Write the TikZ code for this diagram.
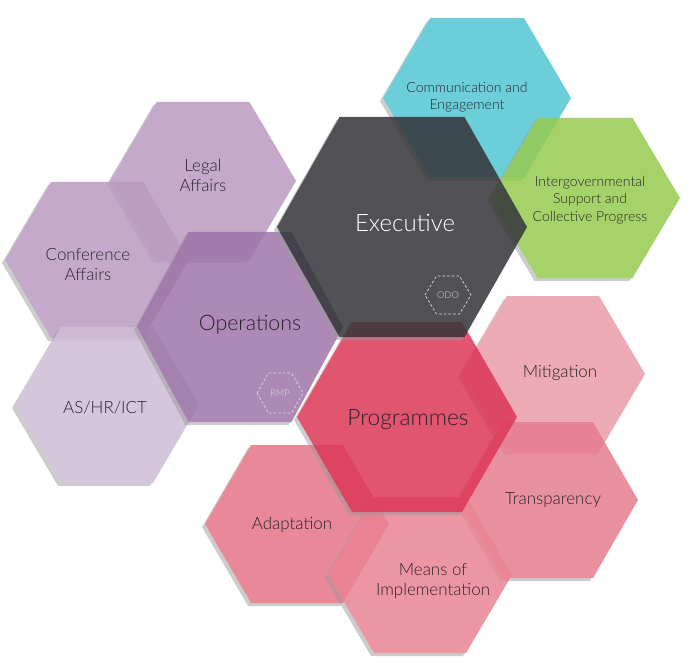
\documentclass[tikz,border=0pt]{standalone}
\usepackage{fontspec}
\IfFontExistsTF{Lato Light}{\setmainfont{Lato Light}}{\setmainfont{Lato}}
\definecolor{execc}{RGB}{52,52,56}
\definecolor{cyanc}{RGB}{82,197,209}
\definecolor{greenc}{RGB}{150,202,80}
\definecolor{purpleop}{RGB}{157,117,168}
\definecolor{purplemid}{RGB}{186,154,193}
\definecolor{purplelt}{RGB}{207,188,214}
\definecolor{progc}{RGB}{220,55,86}
\definecolor{mitc}{RGB}{233,155,167}
\definecolor{transc}{RGB}{229,124,141}
\definecolor{adapc}{RGB}{229,115,134}
\definecolor{meansc}{RGB}{233,131,147}
\definecolor{labeltext}{RGB}{40,36,44}
\definecolor{tagc}{RGB}{225,222,228}
\newcommand{\hexdraw}[5]{%
  \begin{scope}[even odd rule]
    \clip (#2-#4,#3) -- (#2-#4/2,#3-#5) -- (#2+#4/2,#3-#5) -- (#2+#4,#3) -- (#2+#4/2,#3+#5) -- (#2-#4/2,#3+#5) -- cycle (-10,-10) rectangle (701,676);
    \fill[shadowfill, hexp={#2}{#3}{#4}{#5}];
  \end{scope}
  \fill[#1, hexfill, hexp={#2}{#3}{#4}{#5}];
}
\begin{document}
\begin{tikzpicture}[x=0.75pt,y=-0.75pt,
  hexp/.style n args={4}{insert path={(#1-#3,#2) -- (#1-#3/2,#2-#4) -- (#1+#3/2,#2-#4) -- (#1+#3,#2) -- (#1+#3/2,#2+#4) -- (#1-#3/2,#2+#4) -- cycle}},
  shadowfill/.style={fill=black!40, fill opacity=0.5, shift={(-3,3)}},
  hexfill/.style={fill opacity=0.85},
  lbl/.style={text=labeltext, align=center, font=\fontsize{12.7}{15}\selectfont},
  lblsmall/.style={text=labeltext, align=center, font=\fontsize{10.5}{13}\selectfont},
  lblbig/.style={align=center, font=\fontsize{16}{19}\selectfont},
  tagline/.style={draw=tagc, dash pattern=on 2pt off 1.5pt, line width=0.5pt},
  taglbl/.style={text=tagc, font=\fontsize{7}{8}\selectfont}
]
\useasboundingbox (0,0) rectangle (691,666);

% Operations cluster
\hexdraw{purplemid}{203}{181}{93}{79}
\hexdraw{purplemid}{97}{260}{92}{78}
\hexdraw{purplelt}{107}{405}{92}{78}
\hexdraw{purpleop}{240}{327}{103}{95}

% top right
\hexdraw{cyanc}{477}{98}{94}{80}
\hexdraw{greenc}{585}{198}{95}{80}

% Programme sub-hexes
\hexdraw{mitc}{553}{374}{92}{78}
\hexdraw{transc}{548}{500}{90}{78}
\hexdraw{adapc}{297}{524}{92}{79}
\hexdraw{meansc}{420}{575}{92}{78}

% Programmes and Executive
\hexdraw{progc}{407}{417}{110}{95}
\hexdraw{execc}{402}{227}{125}{110}

% dashed tags
\draw[tagline, hexp={448}{295}{23}{19}];
\draw[tagline, hexp={280}{393}{23}{20}];

% labels
\node[lbl] (legal) at (203,175) {Legal\\Affairs};
\node[lbl] (conf) at (88,265) {Conference\\Affairs};
\node[lbl] (ashr) at (105,408) {AS/HR/ICT};
\node[lblbig, text=labeltext] (ops) at (250,325) {Operations};
\node[lblsmall] (comm) at (467,97) {Communication and\\Engagement};
\node[lblsmall] (igov) at (590,200) {Intergovernmental\\Support and\\Collective Progress};
\node[lblbig, text=white, font=\fontsize{18}{20}\selectfont] (exec) at (405,223) {Executive};
\node[lblbig, text=labeltext, font=\fontsize{17}{20}\selectfont] (prog) at (408,420) {Programmes};
\node[lbl] (mit) at (560,373) {Mitigation};
\node[lbl] (trans) at (553,500) {Transparency};
\node[lbl] (adap) at (292,525) {Adaptation};
\node[lbl] (means) at (433,581) {Means of\\Implementation};
\node[taglbl] (odo) at (448,295) {ODO};
\node[taglbl] (rmp) at (280,393) {RMP};
\end{tikzpicture}
\end{document}
